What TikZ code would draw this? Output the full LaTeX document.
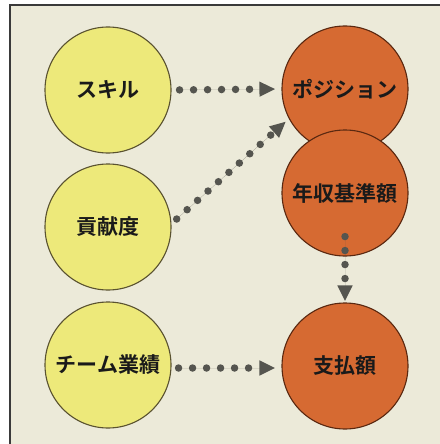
\documentclass[tikz,border=0pt]{standalone}
\usepackage{fontspec}
\setmainfont{Noto Sans CJK JP}[BoldFont={Noto Sans CJK JP Bold}]
\usetikzlibrary{arrows.meta}
\definecolor{bg}{HTML}{ECEAD9}
\definecolor{framec}{HTML}{3A3A3A}
\definecolor{yfill}{HTML}{EDE97A}
\definecolor{ydraw}{HTML}{5A5230}
\definecolor{ofill}{HTML}{D66A32}
\definecolor{odraw}{HTML}{5A2810}
\definecolor{dotc}{HTML}{55554F}
\definecolor{txt}{HTML}{1A1A1A}
\tikzset{
  basecirc/.style={circle, minimum size=126pt, inner sep=0pt, line width=1.1pt,
    font=\bfseries\fontsize{21}{25}\selectfont, text=txt},
  ycirc/.style={basecirc, fill=yfill, draw=ydraw},
  ocirc/.style={basecirc, fill=ofill, draw=odraw},
  conn/.style={draw=dotc, line width=7.5pt, line cap=round, dash pattern=on 0pt off 14pt,
    -{Triangle[length=16pt,width=14pt]}, fill=dotc}
}
\begin{document}
\begin{tikzpicture}[x=1pt,y=-1pt]
\useasboundingbox (0,0) rectangle (439,444);
\fill[white] (0,0) rectangle (439,444);
\filldraw[fill=bg, draw=framec, line width=1.5pt] (10,5) rectangle (470,480);
\node[ycirc] (sk) at (108,90) {スキル};
\node[ycirc] (ko) at (108,227) {貢献度};
\node[ycirc] (tm) at (108,365) {チーム業績};
\node[ocirc] (po) at (345,89) {ポジション};
\node[ocirc] (ne) at (345,193) {\raisebox{-4pt}{年収基準額}};
\node[ocirc] (sh) at (345,366) {支払額};
\draw[conn, shorten <=8pt, shorten >=6pt] (sk.east) -- (po.west);
\draw[conn, shorten <=7pt, shorten >=4pt] (ko.3) -- (po.208);
\draw[conn, shorten <=7pt, shorten >=6pt] ([yshift=-3pt]tm.east) -- ([yshift=-2pt]sh.west);
\draw[conn, shorten >=1pt] ([yshift=20pt]ne.south) -- (sh.north);
\end{tikzpicture}
\end{document}
